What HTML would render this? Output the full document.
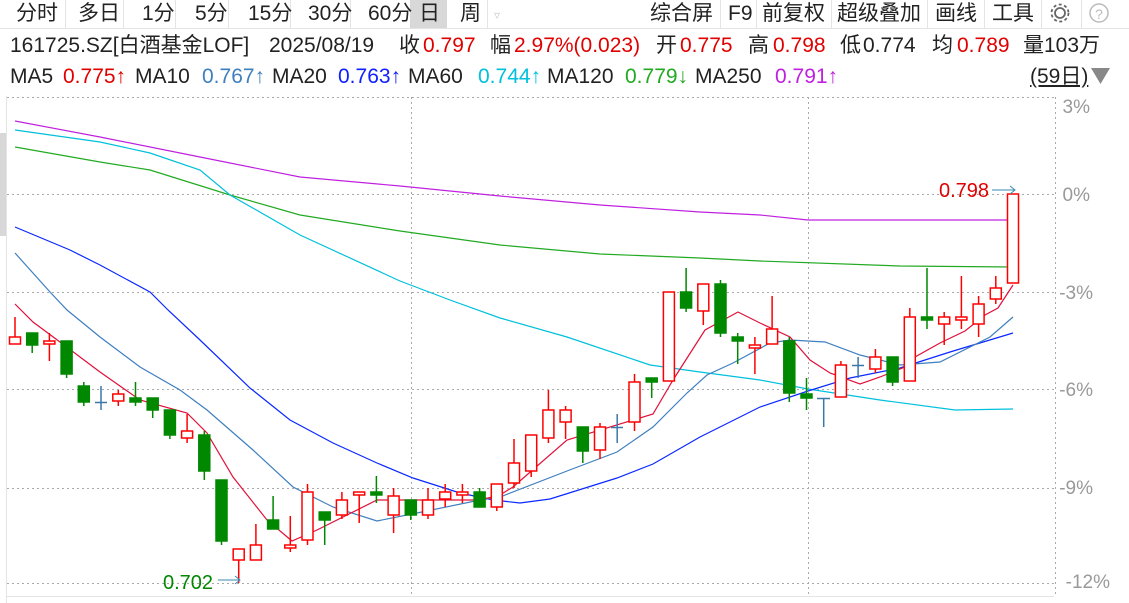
<!DOCTYPE html>
<html><head><meta charset="utf-8"><style>
body{margin:0;width:1129px;height:603px;overflow:hidden;background:#fff;font-family:"Liberation Sans","Noto Sans CJK SC",sans-serif;}
.t{position:absolute;font-size:21px;white-space:nowrap;color:#222;line-height:22px;}
.r{color:#e00000}.b1{color:#3f7fbf}.b2{color:#1020ff}.c{color:#00c0dc}.g{color:#22aa22}.m{color:#c020e0}.k{color:#222}
</style></head><body>
<div style="position:absolute;left:410px;top:0;width:37px;height:28px;background:#d8d8d8"></div>
<svg style="position:absolute;left:0;top:0" width="1129" height="603">
<g stroke="#e4e4e4" stroke-width="1">
<line x1="0" y1="28.5" x2="1129" y2="28.5"/>
<line x1="65.5" y1="0" x2="65.5" y2="28"/><line x1="123.5" y1="0" x2="123.5" y2="28"/><line x1="175.5" y1="0" x2="175.5" y2="28"/><line x1="228.5" y1="0" x2="228.5" y2="28"/><line x1="290.5" y1="0" x2="290.5" y2="28"/><line x1="350.5" y1="0" x2="350.5" y2="28"/><line x1="487.5" y1="0" x2="487.5" y2="28"/>
<line x1="720.5" y1="0" x2="720.5" y2="28"/><line x1="756.5" y1="0" x2="756.5" y2="28"/><line x1="831.5" y1="0" x2="831.5" y2="28"/><line x1="927.5" y1="0" x2="927.5" y2="28"/><line x1="984.5" y1="0" x2="984.5" y2="28"/><line x1="1041.5" y1="0" x2="1041.5" y2="28"/><line x1="1081.5" y1="0" x2="1081.5" y2="28"/>
<line x1="6.5" y1="96" x2="6.5" y2="603"/>
</g>
<rect x="0" y="133" width="6" height="103" fill="#d8d8d8"/>
<g stroke="#aaa" stroke-width="1" stroke-dasharray="2,3">
<line x1="7" y1="97.5" x2="1054" y2="97.5"/><line x1="7" y1="194.5" x2="1054" y2="194.5"/><line x1="7" y1="292.5" x2="1054" y2="292.5"/><line x1="7" y1="389.5" x2="1054" y2="389.5"/><line x1="7" y1="488.5" x2="1054" y2="488.5"/><line x1="7" y1="583.5" x2="1054" y2="583.5"/>
<line x1="411.5" y1="97" x2="411.5" y2="596"/><line x1="808.5" y1="97" x2="808.5" y2="596"/><line x1="1055.5" y1="97" x2="1055.5" y2="596"/>
</g>
<line x1="7" y1="596.5" x2="1054" y2="596.5" stroke="#e4e4e4"/>
<g fill="none" stroke-width="1.2">
<polyline stroke="#c020e0" points="15,121 100,137 200,157 300,177 400,186 500,196 600,205 700,212 760,215 808,220 1013,220"/>
<polyline stroke="#22aa22" points="15,147 100,162 150,170 230,195 300,215 400,231 500,245 600,254 700,258 760,261 900,266 1013,267"/>
<polyline stroke="#00c0dc" points="15,130 100,142 150,153 200,170 230,195 300,235 400,281 450,300 500,318 567,337 650,365 700,372 760,380 808,389 880,400 955,410 1013,409"/>
<polyline stroke="#0a28ff" points="15,227 70,250 100,265 150,292 168,310 200,340 250,388 290,420 333,443 377,463 413,478 460,493 493,500 520,503 550,499 617,478 653,464 700,437 760,407 808,391 850,378 900,368 950,352 1013,333"/>
<polyline stroke="#3f7fbf" points="15,253 50,292 67,310 100,337 140,367 180,390 207,410 253,450 293,487 333,507 377,521 417,513 480,500 500,497 567,471 617,452 653,427 687,393 707,375 733,363 770,343 790,340 825,342 860,355 900,365 940,362 990,337 1013,317"/>
<polyline stroke="#e0103a" points="15,304 33,322 60,342 100,372 140,400 187,413 207,433 233,477 267,520 292,541 317,530 377,500 433,500 480,500 500,495 513,487 567,440 653,414 673,380 705,330 738,312 760,323 790,337 810,360 830,373 860,384 880,377 905,367 915,357 940,343 965,331 985,315 998,308 1013,285"/>
</g>
<g stroke-width="1.5">
<g stroke="#f00" fill="#fff">
<path d="M15 317V337M118.3 390V394M118.3 401V406M49.4 333V341M49.4 344V361M187.1 414V431M187.1 438V443M238.7 560V583M255.9 524V545M290.3 516V545M290.3 548V552M307.5 484V492M307.5 540V545M341.9 492V500M341.9 515V519M359.2 495V523M393.6 488V496M393.6 515V533M428 488V500M428 515V519M445.2 484V492M445.2 499V507M462.4 484V492M462.4 495V503M496.8 507V511M514 439V463M514 483V488M531.2 471V477M548.4 390V410M548.4 438V443M565.6 406V410M565.6 422V439M600 423V427M600 450V459M634.5 374V382M634.5 422V431M703.3 311V325M754.9 337V345M754.9 348V374M772.1 296V329M840.9 361V365M875.4 349V357M875.4 369V373M909.8 308V317M944.2 312V317M944.2 324V345M961.4 276V317M961.4 320V329M978.6 296V304M978.6 324V337M995.8 276V288M995.8 299V304"/>
<rect x="9.5" y="337" width="11" height="7"/><rect x="43.9" y="341" width="11" height="3"/><rect x="112.8" y="394" width="11" height="7"/><rect x="181.6" y="431" width="11" height="7"/><rect x="233.2" y="549" width="11" height="11"/><rect x="250.4" y="545" width="11" height="15"/><rect x="284.8" y="545" width="11" height="3"/><rect x="302" y="492" width="11" height="48"/><rect x="336.4" y="500" width="11" height="15"/><rect x="353.7" y="492" width="11" height="3"/><rect x="388.1" y="496" width="11" height="19"/><rect x="422.5" y="500" width="11" height="15"/><rect x="439.7" y="492" width="11" height="7"/><rect x="456.9" y="492" width="11" height="3"/><rect x="491.3" y="484" width="11" height="23"/><rect x="508.5" y="463" width="11" height="20"/><rect x="525.7" y="435" width="11" height="36"/><rect x="542.9" y="410" width="11" height="28"/><rect x="560.1" y="410" width="11" height="12"/><rect x="594.5" y="427" width="11" height="23"/><rect x="629" y="382" width="11" height="40"/><rect x="663.4" y="292" width="11" height="89"/><rect x="697.8" y="284" width="11" height="27"/><rect x="749.4" y="345" width="11" height="3"/><rect x="766.6" y="329" width="11" height="15"/><rect x="835.4" y="365" width="11" height="32"/><rect x="869.9" y="357" width="11" height="12"/><rect x="904.3" y="317" width="11" height="64"/><rect x="938.7" y="317" width="11" height="7"/><rect x="955.9" y="317" width="11" height="3"/><rect x="973.1" y="304" width="11" height="20"/><rect x="990.3" y="288" width="11" height="11"/><rect x="1007.5" y="194" width="11" height="89"/>
</g>
<g stroke="#008800" fill="#008800">
<path d="M32.2 333V353M66.6 341V378M83.8 382V406M135.5 382V406M152.7 398V418M169.9 410V439M204.3 431V480M221.5 480V545M273.1 496V529M324.7 512V545M376.4 476V503M410.8 500V520M479.6 488V507M582.8 427V463M651.7 378V398M686.1 268V312M720.5 280V337M737.7 333V364M789.3 337V402M806.5 378V410M892.6 357V386M927 268V329"/>
<rect x="26.7" y="333" width="11" height="12"/><rect x="61.1" y="341" width="11" height="33"/><rect x="78.3" y="386" width="11" height="16"/><rect x="130" y="398" width="11" height="4"/><rect x="147.2" y="398" width="11" height="12"/><rect x="164.4" y="410" width="11" height="25"/><rect x="198.8" y="435" width="11" height="36"/><rect x="216" y="480" width="11" height="61"/><rect x="267.6" y="520" width="11" height="9"/><rect x="319.2" y="512" width="11" height="8"/><rect x="370.9" y="492" width="11" height="3"/><rect x="405.3" y="500" width="11" height="15"/><rect x="474.1" y="492" width="11" height="15"/><rect x="577.3" y="427" width="11" height="24"/><rect x="646.2" y="378" width="11" height="4"/><rect x="680.6" y="292" width="11" height="16"/><rect x="715" y="284" width="11" height="49"/><rect x="732.2" y="337" width="11" height="4"/><rect x="783.8" y="341" width="11" height="52"/><rect x="801" y="394" width="11" height="4"/><rect x="887.1" y="357" width="11" height="25"/><rect x="921.5" y="317" width="11" height="3"/>
</g>
<g stroke="#3a78a8">
<path d="M101 386V410M95 402.5H107M617.2 414V443M611 427.5H623M823.7 398V427M817 398.5H830M858.1 357V378M852 365.5H864"/>
</g>
</g>
<g stroke="#3a8ab0" fill="none" stroke-width="1"><path d="M218 580H240M235 576L240 580L235 584"/><path d="M992 190H1015M1010 186L1015 190L1010 194"/></g>
<text x="163" y="589" font-size="20" fill="#008800" font-family="Liberation Sans">0.702</text>
<text x="939" y="197" font-size="20" fill="#e00000" font-family="Liberation Sans">0.798</text>
<g font-size="19" fill="#999" font-family="Liberation Sans" text-anchor="end">
<text x="1090" y="113">3%</text><text x="1090" y="201">0%</text><text x="1093" y="299">-3%</text><text x="1093" y="396">-6%</text><text x="1093" y="494">-9%</text><text x="1110" y="588">-12%</text>
</g>
<path d="M1091 68H1110L1100.5 84Z" fill="#888"/>
<g fill="none" stroke="#666" stroke-width="1.8"><circle cx="1060" cy="13" r="5"/><circle cx="1060" cy="13" r="8.5" stroke-dasharray="3,2.5"/></g>
<circle cx="1099" cy="13" r="9" fill="none" stroke="#bbb" stroke-width="1.5"/>
<text x="1099" y="19" font-size="14" fill="#bbb" text-anchor="middle" font-family="Liberation Sans">?</text>
</svg>
<div class="t" style="left:16px;top:3px">分时</div>
<div class="t" style="left:78px;top:3px">多日</div>
<div class="t" style="left:142px;top:3px">1分</div>
<div class="t" style="left:195px;top:3px">5分</div>
<div class="t" style="left:248px;top:3px">15分</div>
<div class="t" style="left:308px;top:3px">30分</div>
<div class="t" style="left:368px;top:3px">60分</div>
<div class="t" style="left:419px;top:3px">日</div>
<div class="t" style="left:460px;top:3px">周</div>
<div class="t" style="left:494px;top:4px;color:#ccc;font-size:12px">▿</div>
<div class="t" style="left:650px;top:3px">综合屏</div>
<div class="t" style="left:728px;top:3px">F9</div>
<div class="t" style="left:762px;top:3px">前复权</div>
<div class="t" style="left:837px;top:3px">超级叠加</div>
<div class="t" style="left:935px;top:3px">画线</div>
<div class="t" style="left:992px;top:3px">工具</div>
<div class="t" style="left:10px;top:35px">161725.SZ[白酒基金LOF]</div>
<div class="t" style="left:269px;top:35px">2025/08/19</div>
<div class="t" style="left:399px;top:35px">收</div><div class="t r" style="left:423px;top:35px">0.797</div>
<div class="t" style="left:490px;top:35px">幅</div><div class="t r" style="left:514px;top:35px">2.97%(0.023)</div>
<div class="t" style="left:656px;top:35px">开</div><div class="t r" style="left:680px;top:35px">0.775</div>
<div class="t" style="left:748px;top:35px">高</div><div class="t r" style="left:773px;top:35px">0.798</div>
<div class="t" style="left:840px;top:35px">低</div><div class="t" style="left:863px;top:35px">0.774</div>
<div class="t" style="left:932px;top:35px">均</div><div class="t r" style="left:957px;top:35px">0.789</div>
<div class="t" style="left:1023px;top:35px">量103万</div>
<div class="t" style="left:10px;top:66px">MA5</div><div class="t r" style="left:63px;top:66px">0.775↑</div>
<div class="t" style="left:135px;top:66px">MA10</div><div class="t b1" style="left:202px;top:66px">0.767↑</div>
<div class="t" style="left:272px;top:66px">MA20</div><div class="t b2" style="left:338px;top:66px">0.763↑</div>
<div class="t" style="left:408px;top:66px">MA60</div><div class="t c" style="left:478px;top:66px">0.744↑</div>
<div class="t" style="left:547px;top:66px">MA120</div><div class="t g" style="left:625px;top:66px">0.779↓</div>
<div class="t" style="left:695px;top:66px">MA250</div><div class="t m" style="left:775px;top:66px">0.791↑</div>
<div class="t" style="left:1030px;top:66px;text-decoration:underline">(59日)</div>
</body></html>
